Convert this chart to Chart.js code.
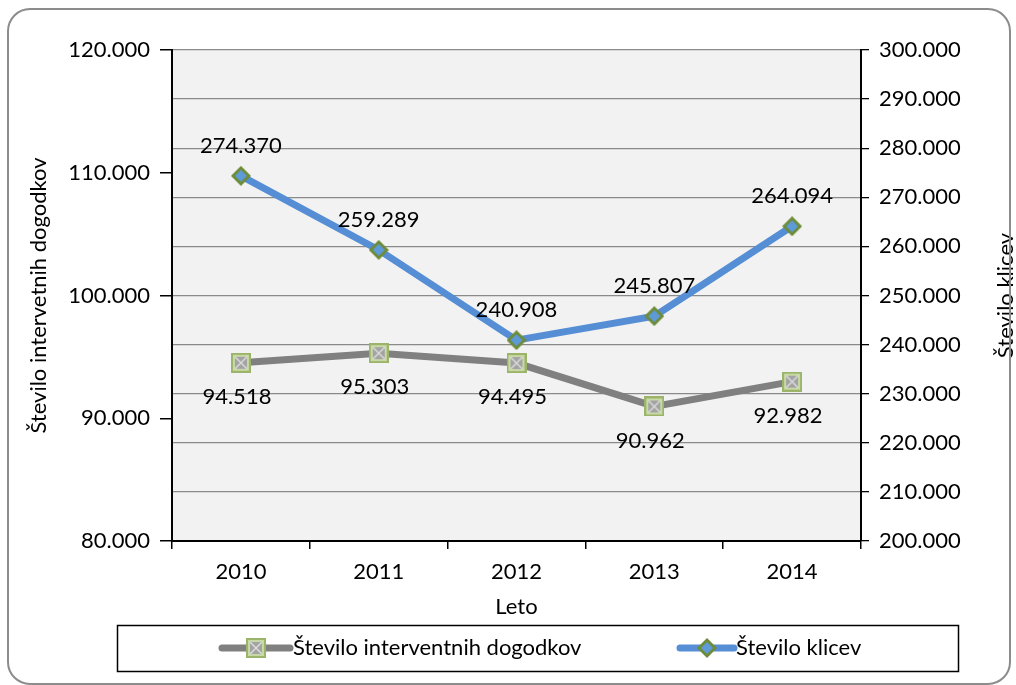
<!DOCTYPE html>
<html>
<head>
<meta charset="utf-8">
<script src="https://cdn.jsdelivr.net/npm/chart.js@4"></script>
<style>
  html, body { margin: 0; padding: 0; background: #fff; overflow: hidden; }
  canvas { display: block; }
</style>
</head>
<body>
<canvas id="chart" width="1016" height="685"></canvas>
<script>
// data
const years = ["2010", "2011", "2012", "2013", "2014"];
const dogodki = [94518, 95303, 94495, 90962, 92982];
const klici = [274370, 259289, 240908, 245807, 264094];

const seriesNames = ["Število interventnih dogodkov", "Število klicev"];
const leftRange = [80000, 120000, 10000];
const rightRange = [200000, 300000, 10000];

const FONT = "Lato, 'Liberation Sans', sans-serif";
const FS = 22;
const fontSpec = { family: FONT, size: FS };

function fmt(v) {
  return String(v).replace(/\B(?=(\d{3})+(?!\d))/g, ".");
}

// marker images
function squareMarker() {
  const c = document.createElement("canvas");
  c.width = 20; c.height = 20;
  const g = c.getContext("2d");
  g.fillStyle = "#9bb46a";
  g.fillRect(0, 0, 20, 20);
  g.fillStyle = "#c9d9a5";
  g.fillRect(2, 2, 16, 16);
  g.fillStyle = "#a3a3a3";
  g.fillRect(4, 4, 12, 12);
  g.strokeStyle = "#dadada";
  g.lineWidth = 1.5;
  g.beginPath();
  g.moveTo(4, 4); g.lineTo(16, 16);
  g.moveTo(16, 4); g.lineTo(4, 16);
  g.stroke();
  return c;
}

function diamondMarker() {
  const c = document.createElement("canvas");
  c.width = 20; c.height = 20;
  const g = c.getContext("2d");
  g.fillStyle = "#6e8c38";
  g.beginPath();
  g.moveTo(10, 0); g.lineTo(20, 10); g.lineTo(10, 20); g.lineTo(0, 10);
  g.closePath(); g.fill();
  g.fillStyle = "#5c9ad8";
  g.beginPath();
  g.moveTo(10, 4); g.lineTo(16, 10); g.lineTo(10, 16); g.lineTo(4, 10);
  g.closePath(); g.fill();
  return c;
}

const sq = squareMarker();
const dia = diamondMarker();

const decor = {
  id: "decor",
  beforeDraw(chart) {
    const { ctx, chartArea: a } = chart;
    ctx.save();
    ctx.fillStyle = "#fff";
    ctx.fillRect(0, 0, chart.width, chart.height);
    ctx.fillStyle = "#f2f2f2";
    ctx.fillRect(a.left, a.top, a.right - a.left, a.bottom - a.top);
    ctx.restore();
  },
  afterDatasetsDraw(chart) {
    const ctx = chart.ctx;
    ctx.save();
    ctx.font = FS + "px " + FONT;
    ctx.fillStyle = "#000";
    ctx.textAlign = "center";
    ctx.textBaseline = "middle";
    chart.data.datasets.forEach((ds, i) => {
      const meta = chart.getDatasetMeta(i);
      meta.data.forEach((pt, j) => {
        const dy = i === 0 ? 34 : -30;
        ctx.fillText(fmt(ds.data[j]), pt.x - (i === 0 ? 4 : 0), pt.y + dy);
      });
    });
    ctx.restore();
  },
  afterDraw(chart) {
    const ctx = chart.ctx;
    const a = chart.chartArea;
    ctx.save();
    // right axis title
    ctx.font = FS + "px " + FONT;
    ctx.fillStyle = "#000";
    ctx.textAlign = "center";
    ctx.textBaseline = "middle";
    ctx.translate(1006, (a.top + a.bottom) / 2);
    ctx.rotate(-Math.PI / 2);
    ctx.fillText("Število klicev", 0, 0);
    ctx.restore();

    // legend box
    ctx.save();
    ctx.strokeStyle = "#000";
    ctx.lineWidth = 1.5;
    ctx.strokeRect(117.5, 625.5, 841, 46);
    const entries = [
      { x0: 222, x1: 290, color: "#808080", img: sq, tx: 293 },
      { x0: 680, x1: 734, color: "#558ed5", img: dia, tx: 736 }
    ];
    const ly = 648;
    entries.forEach((e, i) => {
      ctx.strokeStyle = e.color;
      ctx.lineWidth = 7;
      ctx.lineCap = "round";
      ctx.beginPath();
      ctx.moveTo(e.x0, ly); ctx.lineTo(e.x1, ly);
      ctx.stroke();
      const mx = (e.x0 + e.x1) / 2;
      ctx.drawImage(e.img, mx - e.img.width / 2, ly - e.img.height / 2);
      ctx.font = FS + "px " + FONT;
      ctx.fillStyle = "#000";
      ctx.textAlign = "left";
      ctx.textBaseline = "middle";
      ctx.fillText(chart.data.datasets[i].label, e.tx, ly);
    });
    ctx.restore();

    // outer rounded frame
    ctx.save();
    ctx.strokeStyle = "#8c8c8c";
    ctx.lineWidth = 2;
    ctx.beginPath();
    ctx.roundRect(8, 9, 1002, 675, 22);
    ctx.stroke();
    ctx.restore();
  }
};

new Chart(document.getElementById("chart"), {
  type: "line",
  data: {
    labels: years,
    datasets: [
      {
        label: seriesNames[0],
        data: dogodki,
        yAxisID: "y",
        borderColor: "#808080",
        borderWidth: 7,
        pointStyle: sq,
        pointRadius: 10,
        tension: 0
      },
      {
        label: seriesNames[1],
        data: klici,
        yAxisID: "y1",
        borderColor: "#558ed5",
        borderWidth: 7,
        pointStyle: dia,
        pointRadius: 10,
        tension: 0
      }
    ]
  },
  options: {
    responsive: false,
    devicePixelRatio: 1,
    animation: false,
    layout: { padding: { top: 50, left: 0, right: 0, bottom: 0 } },
    plugins: {
      legend: { display: false },
      tooltip: { enabled: false }
    },
    scales: {
      x: {
        offset: true,
        grid: { display: true, drawOnChartArea: false, offset: true, tickLength: 8, color: "#000", lineWidth: 1.5 },
        border: { color: "#000", width: 2 },
        ticks: { font: fontSpec, color: "#000", padding: 10 },
        title: { display: true, text: "Leto", font: fontSpec, color: "#000", padding: { top: 0, bottom: 65 } },
        afterFit: s => { s.height = 144; }
      },
      y: {
        position: "left",
        min: leftRange[0],
        max: leftRange[1],
        ticks: { stepSize: leftRange[2], font: fontSpec, color: "#000", padding: 10, callback: v => fmt(v) },
        grid: { drawOnChartArea: false, tickLength: 12, color: "#000", lineWidth: 1.5 },
        border: { color: "#000", width: 2 },
        title: { display: true, text: "Število intervetnih dogodkov", font: fontSpec, color: "#000", padding: { top: 26, bottom: 0 } },
        afterFit: s => { s.width = 172; }
      },
      y1: {
        position: "right",
        min: rightRange[0],
        max: rightRange[1],
        ticks: { stepSize: rightRange[2], font: fontSpec, color: "#000", padding: 10, callback: v => fmt(v) },
        grid: { drawOnChartArea: true, color: "#8a8a8a", lineWidth: 1.3, tickLength: 8, tickColor: "#000" },
        border: { color: "#000", width: 2 },
        afterFit: s => { s.width = 155; }
      }
    }
  },
  plugins: [decor]
});
</script>
</body>
</html>
